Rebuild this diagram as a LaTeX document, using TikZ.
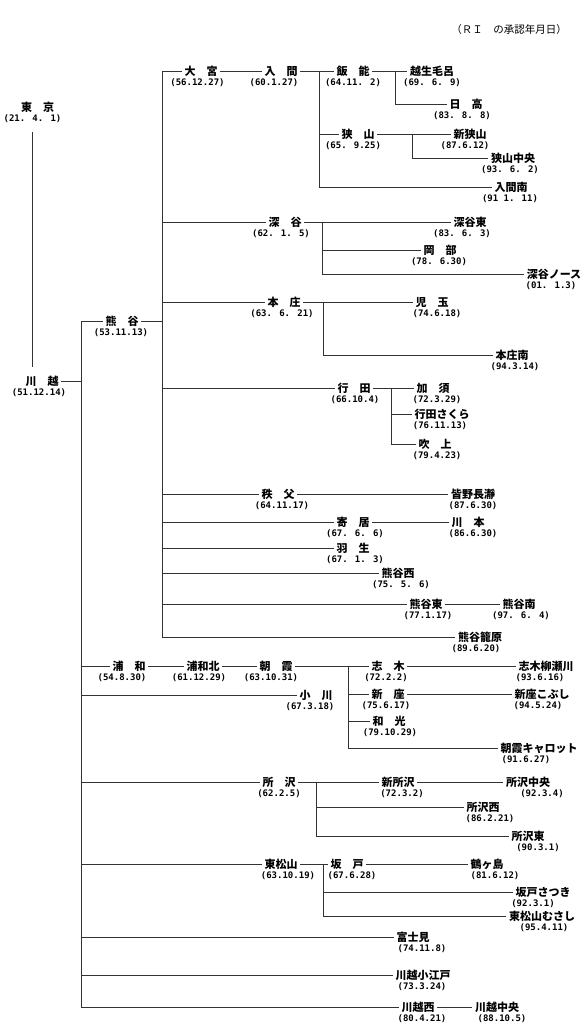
\documentclass[tikz,border=0pt]{standalone}
\usepackage{fontspec}
\setmainfont{Noto Sans CJK JP}
\newfontfamily\datefont{DejaVu Sans Mono}
\usetikzlibrary{positioning}
\tikzset{
  stn/.style={
    font=\fontsize{11}{12}\selectfont\bfseries,
    inner xsep=2.5pt,
    inner ysep=1pt,
    text height=9.5pt,
    text depth=1.5pt
  },
  dt/.style={font=\datefont\fontsize{9}{10}\selectfont\bfseries, inner sep=0pt},
  ttl/.style={font=\fontsize{10.5}{12}\selectfont, inner sep=0pt},
  link/.style={line width=0.9pt, draw=black!80}
}

\begin{document}
\begin{tikzpicture}[x=1pt,y=-1pt]
\useasboundingbox (0,0) rectangle (586,1029);
\node[ttl] (title) at (509,30) {（ＲＩ　の承認年月日）};
% bus lines
\coordinate (kwbus) at (81,0);
\coordinate (kgbus) at (162,0);
\coordinate (irbus) at (319,0);
\coordinate (hnbus) at (395,0);
\coordinate (sybus) at (412,0);
\coordinate (fkbus) at (322,0);
\coordinate (hjbus) at (323,0);
\coordinate (gdbus) at (391,0);
\coordinate (skbus) at (348,0);
\coordinate (tzbus) at (316,0);
\coordinate (sdbus) at (323,0);
% stations
\node[stn] (tokyo) at (37.5,107) {東　京};
\node[dt, below=0.5pt of tokyo, xshift=-5pt] (tokyo-d) {(21. 4. 1)};
\node[stn] (kawagoe) at (42,381) {川　越};
\node[dt, below=0.5pt of kawagoe, xshift=-3pt] (kawagoe-d) {(51.12.14)};
\node[stn] (kumagaya) at (122,321) {熊　谷};
\node[dt, below=0.5pt of kumagaya, xshift=-1pt] (kumagaya-d) {(53.11.13)};
\node[stn] (omiya) at (201,71) {大　宮};
\node[dt, below=0.5pt of omiya, xshift=-3.5pt] (omiya-d) {(56.12.27)};
\node[stn] (iruma) at (281,71) {入　間};
\node[dt, below=0.5pt of iruma, xshift=-7pt] (iruma-d) {(60.1.27)};
\node[stn] (hanno) at (353,71) {飯　能};
\node[dt, below=0.5pt of hanno] (hanno-d) {(64.11. 2)};
\node[stn] (ogose) at (432,71) {越生毛呂};
\node[dt, below=0.5pt of ogose] (ogose-d) {(69. 6. 9)};
\node[stn] (hidaka) at (466,104) {日　高};
\node[dt, below=0.5pt of hidaka, xshift=-4pt] (hidaka-d) {(83. 8. 8)};
\node[stn] (sayama) at (358,134) {狭　山};
\node[dt, below=0.5pt of sayama, xshift=-5pt] (sayama-d) {(65. 9.25)};
\node[stn] (shinsayama) at (470,134) {新狭山};
\node[dt, below=0.5pt of shinsayama, xshift=-5pt] (shinsayama-d) {(87.6.12)};
\node[stn] (sayamachuo) at (513,158) {狭山中央};
\node[dt, below=0.5pt of sayamachuo, xshift=-3pt] (sayamachuo-d) {(93. 6. 2)};
\node[stn] (irumaminami) at (511,187) {入間南};
\node[dt, below=0.5pt of irumaminami, xshift=-1pt] (irumaminami-d) {(91 1. 11)};
\node[stn] (fukaya) at (285,222) {深　谷};
\node[dt, below=0.5pt of fukaya, xshift=-4pt] (fukaya-d) {(62. 1. 5)};
\node[stn] (fukayahigashi) at (470,222) {深谷東};
\node[dt, below=0.5pt of fukayahigashi, xshift=-8pt] (fukayahigashi-d) {(83. 6. 3)};
\node[stn] (okabe) at (440,250) {岡　部};
\node[dt, below=0.5pt of okabe, xshift=-1pt] (okabe-d) {(78. 6.30)};
\node[stn] (fukayanorth) at (554,274) {深谷ノース};
\node[dt, below=0.5pt of fukayanorth, xshift=-3pt] (fukayanorth-d) {(01. 1.3)};
\node[stn] (honjo) at (284,302) {本　庄};
\node[dt, below=0.5pt of honjo, xshift=-2pt] (honjo-d) {(63. 6. 21)};
\node[stn] (kodama) at (432,302) {児　玉};
\node[dt, below=0.5pt of kodama, xshift=5pt] (kodama-d) {(74.6.18)};
\node[stn] (honjominami) at (512,355) {本庄南};
\node[dt, below=0.5pt of honjominami, xshift=3pt] (honjominami-d) {(94.3.14)};
\node[stn] (gyoda) at (354,388) {行　田};
\node[dt, below=0.5pt of gyoda, xshift=1pt] (gyoda-d) {(66.10.4)};
\node[stn] (kazo) at (433,388) {加　須};
\node[dt, below=0.5pt of kazo, xshift=4pt] (kazo-d) {(72.3.29)};
\node[stn] (sakura) at (442,414) {行田さくら};
\node[dt, below=0.5pt of sakura, xshift=-2pt] (sakura-d) {(76.11.13)};
\node[stn] (fukiage) at (435,444) {吹　上};
\node[dt, below=0.5pt of fukiage, xshift=2pt] (fukiage-d) {(79.4.23)};
\node[stn] (chichibu) at (278,494) {秩　父};
\node[dt, below=0.5pt of chichibu, xshift=4pt] (chichibu-d) {(64.11.17)};
\node[stn] (minano) at (473,494) {皆野長瀞};
\node[dt, below=0.5pt of minano] (minano-d) {(87.6.30)};
\node[stn] (yorii) at (353,522) {寄　居};
\node[dt, below=0.5pt of yorii, xshift=2pt] (yorii-d) {(67. 6. 6)};
\node[stn] (kawamoto) at (468,522) {川　本};
\node[dt, below=0.5pt of kawamoto, xshift=5pt] (kawamoto-d) {(86.6.30)};
\node[stn] (hanyu) at (353,548) {羽　生};
\node[dt, below=0.5pt of hanyu, xshift=2pt] (hanyu-d) {(67. 1. 3)};
\node[stn] (kgnishi) at (398,573) {熊谷西};
\node[dt, below=0.5pt of kgnishi, xshift=3pt] (kgnishi-d) {(75. 5. 6)};
\node[stn] (kghigashi) at (426,604) {熊谷東};
\node[dt, below=0.5pt of kghigashi, xshift=2pt] (kghigashi-d) {(77.1.17)};
\node[stn] (kgminami) at (519,604) {熊谷南};
\node[dt, below=0.5pt of kgminami, xshift=2pt] (kgminami-d) {(97. 6. 4)};
\node[stn] (kagohara) at (480,637) {熊谷籠原};
\node[dt, below=0.5pt of kagohara, xshift=-4pt] (kagohara-d) {(89.6.20)};
\node[stn] (urawa) at (129,666) {浦　和};
\node[dt, below=0.5pt of urawa, xshift=-7pt] (urawa-d) {(54.8.30)};
\node[stn] (urawakita) at (203,666) {浦和北};
\node[dt, below=0.5pt of urawakita, xshift=-4pt] (urawakita-d) {(61.12.29)};
\node[stn] (asaka) at (276,666) {朝　霞};
\node[dt, below=0.5pt of asaka, xshift=-5pt] (asaka-d) {(63.10.31)};
\node[stn] (shiki) at (388,666) {志　木};
\node[dt, below=0.5pt of shiki, xshift=-2pt] (shiki-d) {(72.2.2)};
\node[stn] (yanasegawa) at (546,666) {志木柳瀬川};
\node[dt, below=0.5pt of yanasegawa, xshift=-6pt] (yanasegawa-d) {(93.6.16)};
\node[stn] (ogawa) at (316,695) {小　川};
\node[dt, below=0.5pt of ogawa, xshift=-6pt] (ogawa-d) {(67.3.18)};
\node[stn] (niiza) at (388,694) {新　座};
\node[dt, below=0.5pt of niiza, xshift=-2pt] (niiza-d) {(75.6.17)};
\node[stn] (kobushi) at (542,694) {新座こぶし};
\node[dt, below=0.5pt of kobushi, xshift=-4pt] (kobushi-d) {(94.5.24)};
\node[stn] (wako) at (389,721) {和　光};
\node[dt, below=0.5pt of wako, xshift=1pt] (wako-d) {(79.10.29)};
\node[stn] (carrot) at (539,748) {朝霞キャロット};
\node[dt, below=0.5pt of carrot, xshift=-13pt] (carrot-d) {(91.6.27)};
\node[stn] (tokorozawa) at (279,782) {所　沢};
\node[dt, below=0.5pt of tokorozawa] (tokorozawa-d) {(62.2.5)};
\node[stn] (shintokorozawa) at (398,782) {新所沢};
\node[dt, below=0.5pt of shintokorozawa, xshift=4pt] (shintokorozawa-d) {(72.3.2)};
\node[stn] (tzchuo) at (528,782) {所沢中央};
\node[dt, below=0.5pt of tzchuo, xshift=14pt] (tzchuo-d) {(92.3.4)};
\node[stn] (tznishi) at (483,807) {所沢西};
\node[dt, below=0.5pt of tznishi, xshift=7pt] (tznishi-d) {(86.2.21)};
\node[stn] (tzhigashi) at (528,836) {所沢東};
\node[dt, below=0.5pt of tzhigashi, xshift=10pt] (tzhigashi-d) {(90.3.1)};
\node[stn] (higashimatsuyama) at (281,864) {東松山};
\node[dt, below=0.5pt of higashimatsuyama, xshift=7pt] (higashimatsuyama-d) {(63.10.19)};
\node[stn] (sakado) at (347,864) {坂　戸};
\node[dt, below=0.5pt of sakado, xshift=5pt] (sakado-d) {(67.6.28)};
\node[stn] (tsurugashima) at (487,864) {鶴ヶ島};
\node[dt, below=0.5pt of tsurugashima, xshift=8pt] (tsurugashima-d) {(81.6.12)};
\node[stn] (satsuki) at (543,892) {坂戸さつき};
\node[dt, below=0.5pt of satsuki, xshift=-10pt] (satsuki-d) {(92.3.1)};
\node[stn] (musashi) at (542,916) {東松山むさし};
\node[dt, below=0.5pt of musashi, xshift=2pt] (musashi-d) {(95.4.11)};
\node[stn] (fujimi) at (413,937) {富士見};
\node[dt, below=0.5pt of fujimi, xshift=9pt] (fujimi-d) {(74.11.8)};
\node[stn] (koedo) at (423,975) {川越小江戸};
\node[dt, below=0.5pt of koedo, xshift=-1pt] (koedo-d) {(73.3.24)};
\node[stn] (kawanishi) at (418,1007) {川越西};
\node[dt, below=0.5pt of kawanishi, xshift=4pt] (kawanishi-d) {(80.4.21)};
\node[stn] (kawachuo) at (497,1007) {川越中央};
\node[dt, below=0.5pt of kawachuo, xshift=5pt] (kawachuo-d) {(88.10.5)};
% Tokyo - Kawagoe
\draw[link, shorten <=9pt, shorten >=7.5pt] (tokyo-d.south) -- (tokyo-d.south |- kawagoe.north);
\draw[link] (kawagoe.east) -- (kawagoe.east -| kwbus);
\draw[link] (kumagaya.west) -| (kawanishi.west -| kwbus) -- (kawanishi.west);
\draw[link] (urawa.west -| kwbus) -- (urawa.west);
\draw[link] (ogawa.west -| kwbus) -- (ogawa.west);
\draw[link] (tokorozawa.west -| kwbus) -- (tokorozawa.west);
\draw[link] (higashimatsuyama.west -| kwbus) -- (higashimatsuyama.west);
\draw[link] (fujimi.west -| kwbus) -- (fujimi.west);
\draw[link] (koedo.west -| kwbus) -- (koedo.west);
% Kumagaya
\draw[link] (kumagaya.east) -- (kumagaya.east -| kgbus);
\draw[link] (omiya.west) -| (kagohara.west -| kgbus) -- (kagohara.west);
\draw[link] (fukaya.west -| kgbus) -- (fukaya.west);
\draw[link] (honjo.west -| kgbus) -- (honjo.west);
\draw[link] (gyoda.west -| kgbus) -- (gyoda.west);
\draw[link] (chichibu.west -| kgbus) -- (chichibu.west);
\draw[link] (yorii.west -| kgbus) -- (yorii.west);
\draw[link] (hanyu.west -| kgbus) -- (hanyu.west);
\draw[link] (kgnishi.west -| kgbus) -- (kgnishi.west);
\draw[link] (kghigashi.west -| kgbus) -- (kghigashi.west);
% Omiya - Iruma
\draw[link] (omiya.east) -- (iruma.west);
\draw[link] (iruma.east) -- (hanno.west);
\draw[link] (hanno.west -| irbus) |- (irumaminami.west);
\draw[link] (sayama.west -| irbus) -- (sayama.west);
\draw[link] (hanno.east) -- (ogose.west);
\draw[link] (ogose.west -| hnbus) |- (hidaka.west);
\draw[link] (sayama.east) -- (shinsayama.west);
\draw[link] (shinsayama.west -| sybus) |- (sayamachuo.west);
% Fukaya, Honjo, Gyoda
\draw[link] (fukaya.east) -- (fukayahigashi.west);
\draw[link] (fukayahigashi.west -| fkbus) |- (fukayanorth.west);
\draw[link] (okabe.west -| fkbus) -- (okabe.west);
\draw[link] (honjo.east) -- (kodama.west);
\draw[link] (kodama.west -| hjbus) |- (honjominami.west);
\draw[link] (gyoda.east) -- (kazo.west);
\draw[link] (kazo.west -| gdbus) |- (fukiage.west);
\draw[link] (sakura.west -| gdbus) -- (sakura.west);
\draw[link] (chichibu.east) -- (minano.west);
\draw[link] (yorii.east) -- (kawamoto.west);
\draw[link] (kghigashi.east) -- (kgminami.west);
% Urawa - Asaka - Shiki
\draw[link] (urawa.east) -- (urawakita.west);
\draw[link] (urawakita.east) -- (asaka.west);
\draw[link] (asaka.east) -- (shiki.west);
\draw[link] (shiki.west -| skbus) |- (carrot.west);
\draw[link] (niiza.west -| skbus) -- (niiza.west);
\draw[link] (wako.west -| skbus) -- (wako.west);
\draw[link] (shiki.east) -- (yanasegawa.west);
\draw[link] (niiza.east) -- (kobushi.west);
% Tokorozawa
\draw[link] (tokorozawa.east) -- (shintokorozawa.west);
\draw[link] (shintokorozawa.west -| tzbus) |- (tzhigashi.west);
\draw[link] (tznishi.west -| tzbus) -- (tznishi.west);
\draw[link] (shintokorozawa.east) -- (tzchuo.west);
% Higashimatsuyama
\draw[link] (higashimatsuyama.east) -- (sakado.west);
\draw[link] (sakado.west -| sdbus) |- (musashi.west);
\draw[link] (satsuki.west -| sdbus) -- (satsuki.west);
\draw[link] (sakado.east) -- (tsurugashima.west);
\draw[link] (kawanishi.east) -- (kawachuo.west);
\end{tikzpicture}
\end{document}
